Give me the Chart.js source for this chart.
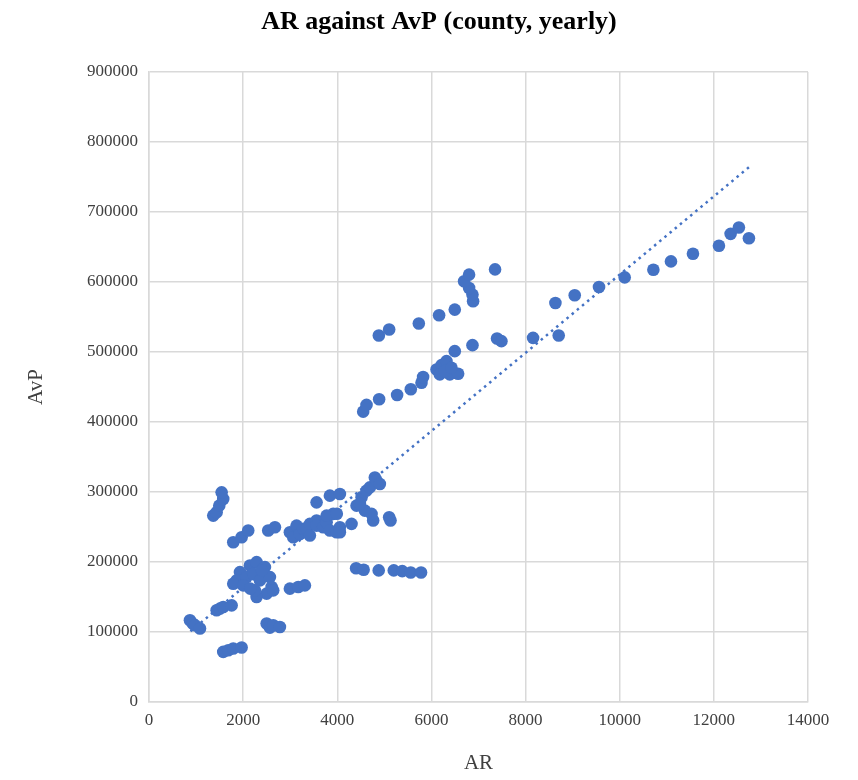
<!DOCTYPE html>
<html>
<head>
<meta charset="utf-8">
<title>AR against AvP</title>
<script src="https://cdn.jsdelivr.net/npm/chart.js@4/dist/chart.umd.min.js"></script>
<style>
  html, body { margin: 0; padding: 0; background: #fff; }
  #wrap { width: 858px; height: 780px; position: relative; }
</style>
</head>
<body>
<div id="wrap"><canvas id="grafico"></canvas></div>
<script>
// valores (AR no eixo x, AvP no eixo y)
const arValores = [
  870, 930, 977, 1083, 1437, 1507, 1577, 1756, 1577, 1684, 1790, 1968,
  1365, 1437, 1493, 1577, 1543, 1790, 1968, 2108, 2533, 2675,
  2144, 2286, 2463, 1932, 1861, 1790, 2074, 2214, 2357, 2569, 2605, 2499, 2286, 2250, 2002, 2639, 2400, 2150,
  2993, 3170, 3312, 2499, 2569, 2639, 2781,
  2993, 3064, 3135, 3206, 3276, 3347, 3418, 3418, 3560, 3560, 3700, 3773, 3843, 3985, 4055, 4055, 3913, 3773, 4303,
  3560, 3843, 4055, 3990,
  4409, 4516, 4586, 4621, 4692, 4762, 4798, 4834, 4904, 5102, 5131, 4728, 4480,
  4400, 4560, 4880, 5200, 5380, 5560, 5780,
  4550, 4621, 4889, 5271, 5562, 5789, 5823, 6108, 6214, 6320, 6496, 6178, 6390, 6567, 6284, 6426, 6872, 7394, 7487, 8159, 8704,
  4883, 5102, 5732, 6163, 6496, 6885, 6872, 6800, 6694, 6800, 7352, 8634, 9044, 9560, 10106, 10715, 11089, 11556, 12108, 12356, 12532, 12745
];
const avpValores = [
  116800, 112000, 109600, 104900, 131000, 133400, 135700, 138100, 71600, 74000, 76500, 77900,
  266300, 271000, 280500, 290000, 299500, 228300, 235400, 244900, 244900, 249600,
  195000, 199800, 192700, 185600, 173700, 169000, 178400, 183200, 173700, 178400, 164200, 154800, 150000, 159500, 166600, 159500, 188000, 162000,
  161900, 164200, 166600, 112100, 106200, 109600, 107200,
  242500, 235400, 252000, 240000, 247300, 247000, 254500, 237800, 259200, 252000, 249600, 256700, 244900, 242500, 249600, 242500, 268700, 266300, 254500,
  285200, 294800, 297200, 269000,
  280500, 292400, 273400, 301900, 306600, 259200, 320800, 316100, 311400, 263900, 259200, 268700, 283000,
  191000, 189000, 188000, 188000, 187000, 185000, 185000,
  414800, 424400, 432400, 438600, 446700, 456100, 464200, 475000, 481300, 487000, 501200, 468000, 468000, 469000, 472800, 477500, 509800, 519300, 515500, 520200, 523600,
  523600, 532100, 540700, 552500, 560600, 572400, 582000, 591400, 601000, 610500, 618000, 570000, 581000, 592800, 606600, 617600, 629400, 640300, 651700, 668800, 677800, 662600
];
// linha de tendência (pontos inicial e final)
const tendenciaAR = [880, 12745];
const tendenciaAvP = [101000, 764000];

const xTicks = [0, 2000, 4000, 6000, 8000, 10000, 12000, 14000];
const yTicks = [0, 100000, 200000, 300000, 400000, 500000, 600000, 700000, 800000, 900000];

const titulo = 'AR against AvP (county, yearly)';
const azul = '#4472C4';
const cinzaGrade = '#d9d9d9';
const fonteSerif = "'Liberation Serif', 'Times New Roman', serif";

function montarPontos(xs, ys) {
  return xs.map((x, i) => ({ x: x, y: ys[i] }));
}

// o título do original fica deslocado para a direita, por isso é desenhado à parte
const pluginTitulo = {
  id: 'tituloDeslocado',
  afterDraw(chart) {
    const c = chart.ctx;
    c.save();
    c.font = 'bold 26px ' + fonteSerif;
    c.fillStyle = '#000';
    c.textAlign = 'center';
    c.textBaseline = 'middle';
    c.fillText(titulo, 439, 22);
    c.restore();
  }
};

const ctx = document.getElementById('grafico').getContext('2d');
const grafico = new Chart(ctx, {
  type: 'scatter',
  data: {
    datasets: [{
      label: 'AvP',
      data: montarPontos(arValores, avpValores),
      backgroundColor: azul,
      borderColor: azul,
      pointRadius: 6.3,
      pointBorderWidth: 0
    }, {
      type: 'line',
      label: 'Tendência',
      data: montarPontos(tendenciaAR, tendenciaAvP),
      borderColor: azul,
      borderWidth: 2.5,
      borderDash: [2.5, 4.2],
      borderCapStyle: 'butt',
      pointRadius: 0,
      fill: false
    }]
  },
  plugins: [pluginTitulo],
  options: {
    responsive: true,
    maintainAspectRatio: false,
    animation: false,
    layout: { padding: { left: 20, right: 50, top: 72, bottom: 0 } },
    plugins: {
      legend: { display: false },
      tooltip: { enabled: false },
      title: { display: false }
    },
    scales: {
      x: {
        type: 'linear',
        min: 0,
        max: 14000,
        afterBuildTicks: (s) => { s.ticks = xTicks.map(v => ({ value: v })); },
        afterFit: (s) => { s.height = 78; },
        grid: { color: cinzaGrade, lineWidth: 1.5, drawTicks: false },
        border: { color: cinzaGrade, width: 1.5 },
        ticks: {
          color: '#404040',
          padding: 8,
          font: { family: fonteSerif, size: 17 },
          maxRotation: 0,
          callback: (v) => String(v)
        },
        title: {
          display: true,
          text: 'AR',
          color: '#404040',
          font: { family: fonteSerif, size: 21 },
          padding: { top: 10 }
        }
      },
      y: {
        type: 'linear',
        min: 0,
        max: 900000,
        afterBuildTicks: (s) => { s.ticks = yTicks.map(v => ({ value: v })); },
        afterFit: (s) => { s.width = 129; },
        grid: { color: cinzaGrade, lineWidth: 1.5, drawTicks: false },
        border: { color: cinzaGrade, width: 1.5 },
        ticks: {
          color: '#404040',
          padding: 11,
          font: { family: fonteSerif, size: 17 },
          callback: (v) => String(v)
        },
        title: {
          display: true,
          text: 'AvP',
          color: '#404040',
          font: { family: fonteSerif, size: 21 },
          padding: { bottom: 6 }
        }
      }
    }
  }
});
</script>
</body>
</html>
